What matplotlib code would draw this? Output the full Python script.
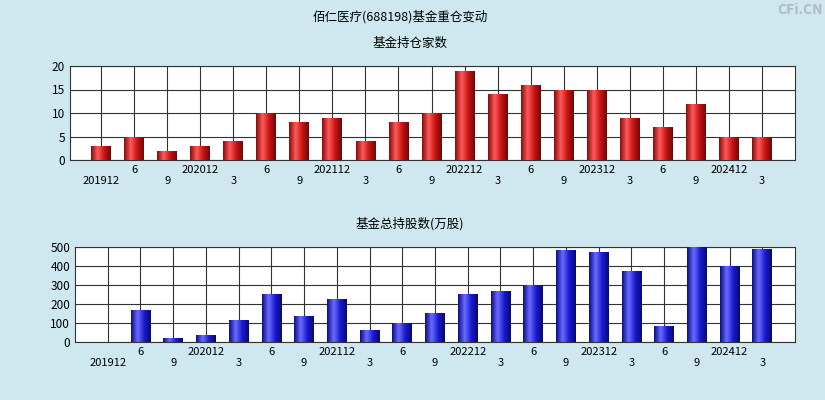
import matplotlib
matplotlib.use("Agg")
import matplotlib.pyplot as plt
import numpy as np
from matplotlib.colors import LinearSegmentedColormap

plt.rcParams['font.family'] = ['Noto Sans CJK SC', 'DejaVu Sans']

periods = ["201912","6","9","202012","3","6","9","202112","3","6","9","202212","3","6","9","202312","3","6","9","202412","3"]
holders = [3,5,2,3,4,10,8,9,4,8,10,19,14,16,15,15,9,7,12,5,5]
shares = [2,166,22,35,115,255,135,225,65,100,152,255,270,300,485,475,375,85,500,400,490]

W, H = 825, 400
fig = plt.figure(figsize=(W/100, H/100), dpi=100)
fig.patch.set_facecolor('#cfe8f0')
fig.text(400/W, 1-17/H, "佰仁医疗(688198)基金重仓变动", ha='center', va='center', fontsize=9)
fig.text(800/W, 1-10/H, "CFi.CN", ha='center', va='center', fontsize=10, color='#b0b8c0', weight='bold')
fig.text(410/W, 1-43/H, "基金持仓家数", ha='center', va='center', fontsize=9)
fig.text(410/W, 1-224/H, "基金总持股数(万股)", ha='center', va='center', fontsize=9)

red = LinearSegmentedColormap.from_list('r', ['#8a0c0c', '#ff5a5a', '#c81414', '#700808'])
blue = LinearSegmentedColormap.from_list('b', ['#0c0c8a', '#6a6aff', '#1a1ad0', '#080870'])

def panel(rect, vals, ylim, yticks, cmap, xlim):
    ax = fig.add_axes(rect)
    ax.set_facecolor('white')
    x = np.arange(len(vals))
    bars = ax.bar(x, vals, width=0.6, color='none', zorder=3)
    grad = np.linspace(0, 1, 64).reshape(1, -1)
    for b in bars:
        im = ax.imshow(grad, cmap=cmap, aspect='auto', zorder=3,
                       extent=[b.get_x(), b.get_x()+b.get_width(), 0, b.get_height()])
        im.set_clip_path(b)
    ax.set_xlim(*xlim)
    ax.set_ylim(*ylim)
    ax.set_yticks(yticks)
    ax.set_xticks(x)
    ax.set_xticklabels([p if i % 2 else "\n" + p for i, p in enumerate(periods)], fontsize=7.5)
    ax.tick_params(length=0, labelsize=8)
    ax.tick_params(axis='y', labelsize=8.5)
    ax.grid(True, color='#333333', linewidth=0.8, zorder=0)
    ax.set_axisbelow(True)
    for s in ax.spines.values():
        s.set_color('#333333')
    return ax

panel([70/W, 1-160/H, 725/W, 94/H], holders, (0, 20), [0,5,10,15,20], red, (-0.94, 21.0))
panel([75/W, 1-342/H, 720/W, 95/H], shares, (0, 500), [0,100,200,300,400,500], blue, (-1.0, 21.0))

fig.savefig("out.png", dpi=100, facecolor=fig.get_facecolor())
